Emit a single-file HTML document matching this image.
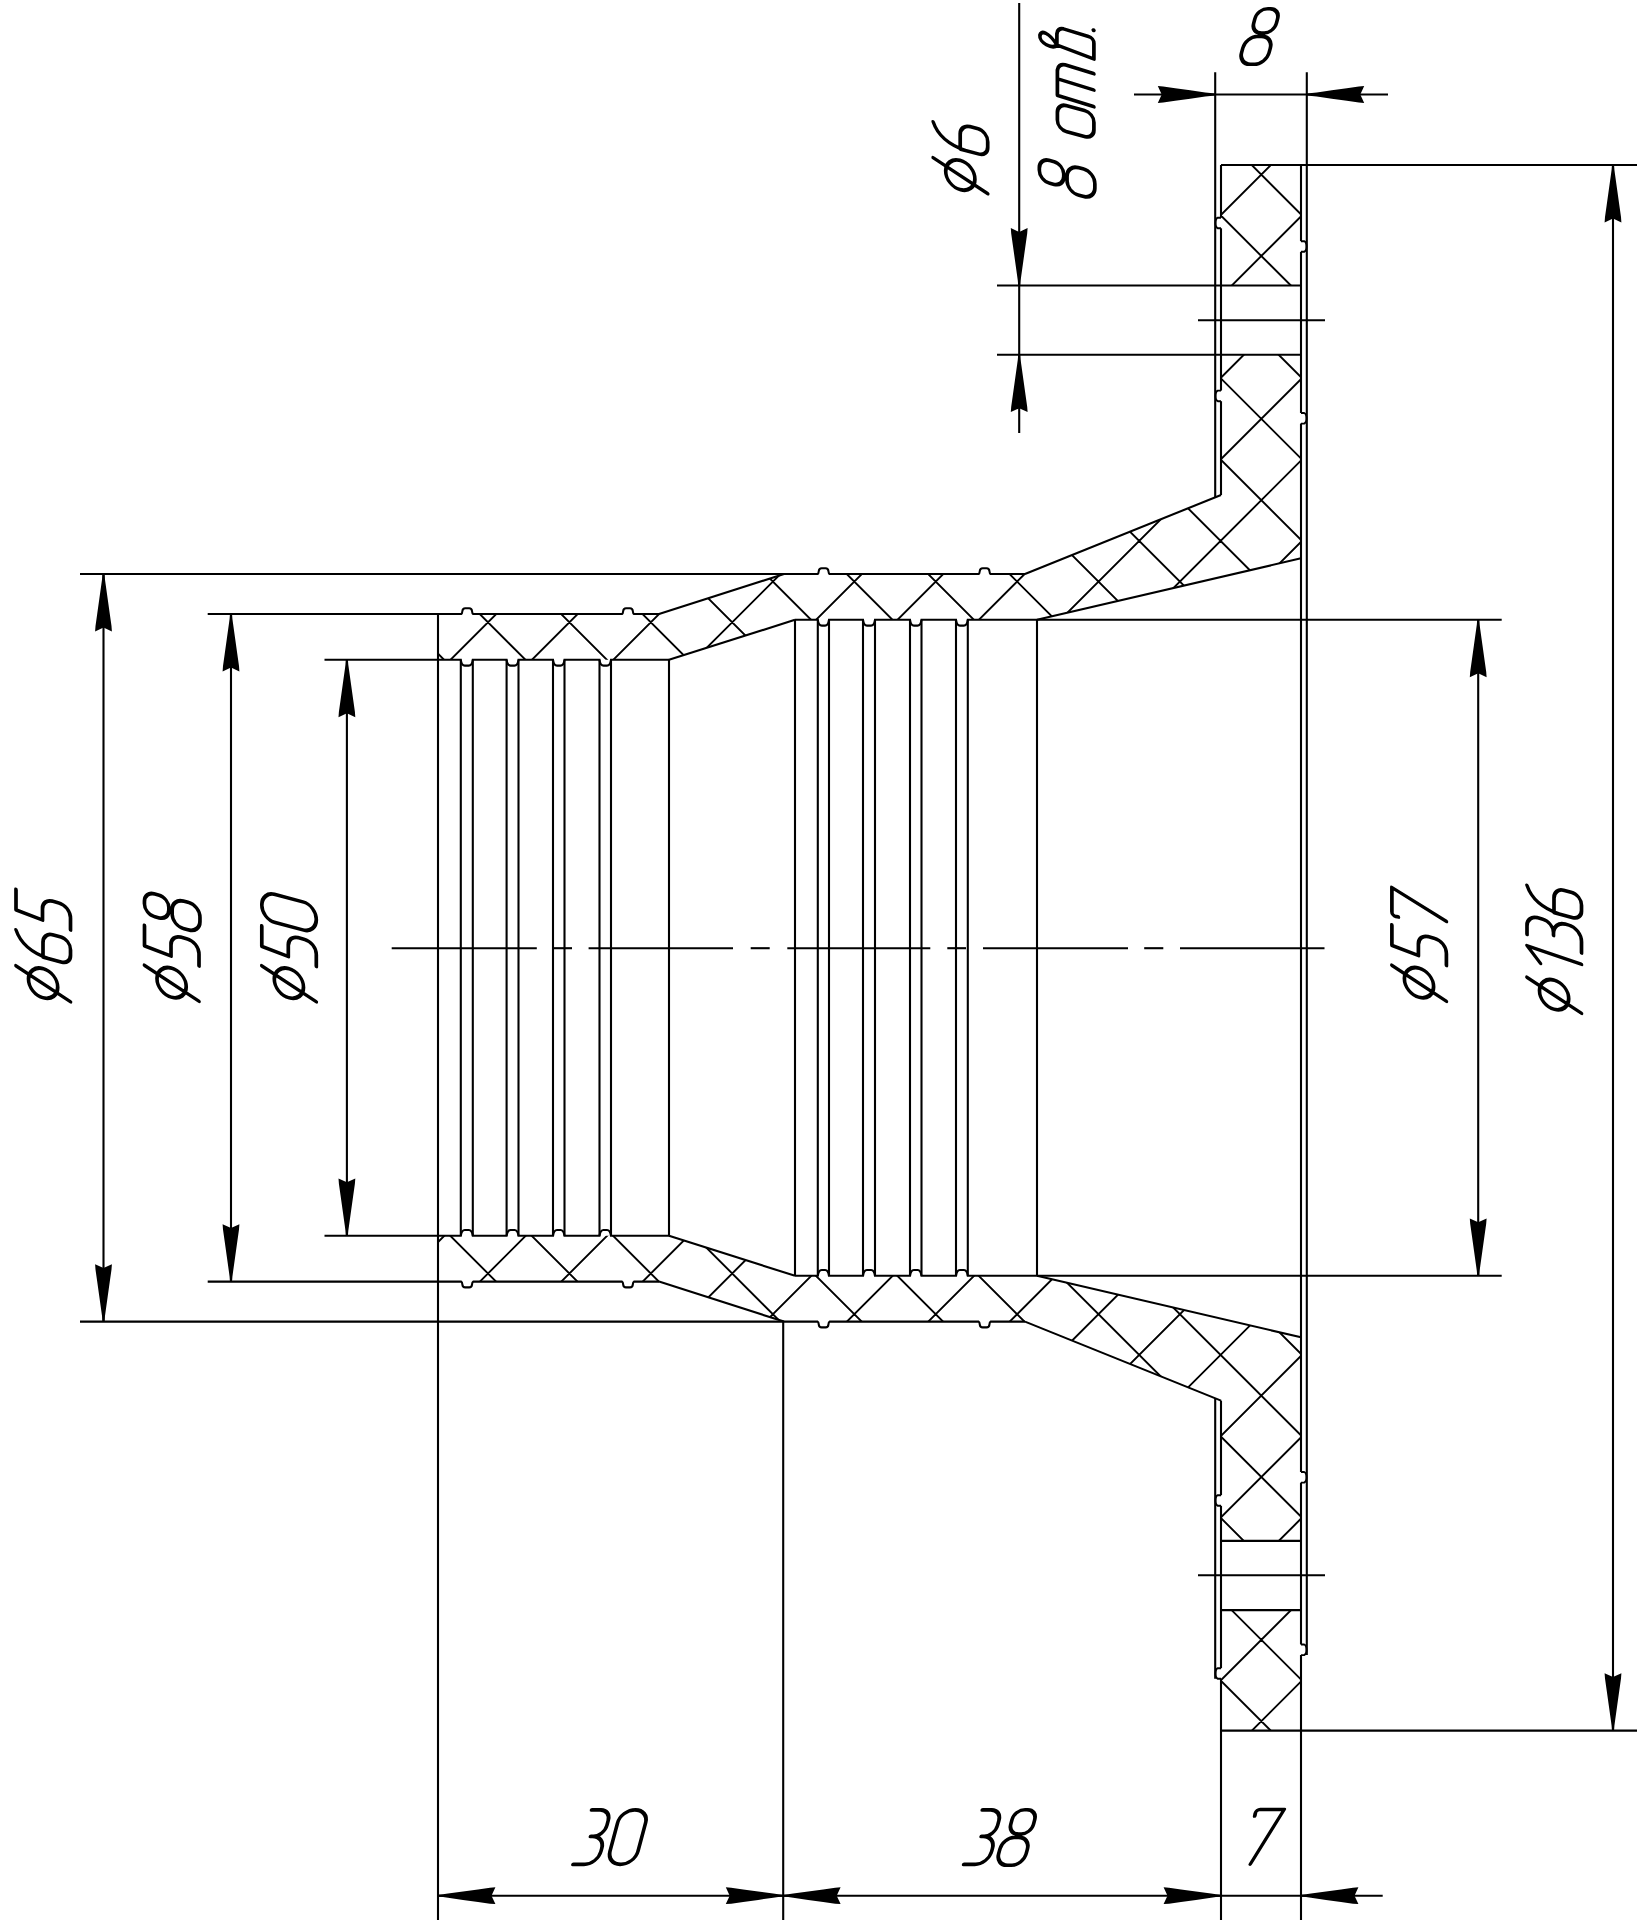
<!DOCTYPE html>
<html><head><meta charset="utf-8"><style>
html,body{margin:0;padding:0;background:#fff;}
svg{display:block;}
</style></head><body>
<svg width="1638" height="1920" viewBox="0 0 1638 1920" stroke="#000" stroke-linecap="butt">
<rect x="0" y="0" width="1638" height="1920" fill="#fff" stroke="none"/>
<defs><clipPath id="sec" clip-rule="evenodd"><path clip-rule="evenodd" d="M438.00,614.00 L659.00,614.00 L784.00,574.00 L1025.00,574.00 L1221.00,495.00 L1221.00,165.00 L1301.00,165.00 L1301.00,558.30 L1037.00,619.80 L795.00,619.80 L669.00,659.80 L438.00,659.80ZM438.00,1281.60 L659.00,1281.60 L784.00,1321.60 L1025.00,1321.60 L1221.00,1400.60 L1221.00,1730.60 L1301.00,1730.60 L1301.00,1337.30 L1037.00,1275.80 L795.00,1275.80 L669.00,1235.80 L438.00,1235.80ZM1221.0,285.5 L1301.0,285.5 L1301.0,354.7 L1221.0,354.7ZM1221.0,1540.8999999999999 L1301.0,1540.8999999999999 L1301.0,1610.1 L1221.0,1610.1Z"/></clipPath></defs>
<path clip-path="url(#sec)" d="M-2087.90,0 L-167.90,1920 M-2006.50,0 L-86.50,1920 M-1925.10,0 L-5.10,1920 M-1843.70,0 L76.30,1920 M-1762.30,0 L157.70,1920 M-1680.90,0 L239.10,1920 M-1599.50,0 L320.50,1920 M-1518.10,0 L401.90,1920 M-1436.70,0 L483.30,1920 M-1355.30,0 L564.70,1920 M-1273.90,0 L646.10,1920 M-1192.50,0 L727.50,1920 M-1111.10,0 L808.90,1920 M-1029.70,0 L890.30,1920 M-948.30,0 L971.70,1920 M-866.90,0 L1053.10,1920 M-785.50,0 L1134.50,1920 M-704.10,0 L1215.90,1920 M-622.70,0 L1297.30,1920 M-541.30,0 L1378.70,1920 M-459.90,0 L1460.10,1920 M-378.50,0 L1541.50,1920 M-297.10,0 L1622.90,1920 M-192.10,0 L-2112.10,1920 M-215.70,0 L1704.30,1920 M-110.70,0 L-2030.70,1920 M-134.30,0 L1785.70,1920 M-29.30,0 L-1949.30,1920 M-52.90,0 L1867.10,1920 M52.10,0 L-1867.90,1920 M28.50,0 L1948.50,1920 M133.50,0 L-1786.50,1920 M109.90,0 L2029.90,1920 M214.90,0 L-1705.10,1920 M191.30,0 L2111.30,1920 M296.30,0 L-1623.70,1920 M272.70,0 L2192.70,1920 M377.70,0 L-1542.30,1920 M354.10,0 L2274.10,1920 M459.10,0 L-1460.90,1920 M435.50,0 L2355.50,1920 M540.50,0 L-1379.50,1920 M516.90,0 L2436.90,1920 M621.90,0 L-1298.10,1920 M598.30,0 L2518.30,1920 M703.30,0 L-1216.70,1920 M679.70,0 L2599.70,1920 M784.70,0 L-1135.30,1920 M761.10,0 L2681.10,1920 M866.10,0 L-1053.90,1920 M842.50,0 L2762.50,1920 M947.50,0 L-972.50,1920 M923.90,0 L2843.90,1920 M1028.90,0 L-891.10,1920 M1005.30,0 L2925.30,1920 M1110.30,0 L-809.70,1920 M1086.70,0 L3006.70,1920 M1191.70,0 L-728.30,1920 M1168.10,0 L3088.10,1920 M1273.10,0 L-646.90,1920 M1249.50,0 L3169.50,1920 M1354.50,0 L-565.50,1920 M1330.90,0 L3250.90,1920 M1435.90,0 L-484.10,1920 M1412.30,0 L3332.30,1920 M1517.30,0 L-402.70,1920 M1493.70,0 L3413.70,1920 M1598.70,0 L-321.30,1920 M1575.10,0 L3495.10,1920 M1680.10,0 L-239.90,1920 M1656.50,0 L3576.50,1920 M1761.50,0 L-158.50,1920 M1737.90,0 L3657.90,1920 M1842.90,0 L-77.10,1920 M1819.30,0 L3739.30,1920 M1924.30,0 L4.30,1920 M2005.70,0 L85.70,1920 M2087.10,0 L167.10,1920 M2168.50,0 L248.50,1920 M2249.90,0 L329.90,1920 M2331.30,0 L411.30,1920 M2412.70,0 L492.70,1920 M2494.10,0 L574.10,1920 M2575.50,0 L655.50,1920 M2656.90,0 L736.90,1920 M2738.30,0 L818.30,1920 M2819.70,0 L899.70,1920 M2901.10,0 L981.10,1920 M2982.50,0 L1062.50,1920 M3063.90,0 L1143.90,1920 M3145.30,0 L1225.30,1920 M3226.70,0 L1306.70,1920 M3308.10,0 L1388.10,1920 M3389.50,0 L1469.50,1920 M3470.90,0 L1550.90,1920 M3552.30,0 L1632.30,1920 M3633.70,0 L1713.70,1920 M3715.10,0 L1795.10,1920" stroke-width="1.9" fill="none"/>
<path d="M207.70,614.00 L461.20,614.00 Q462.20,613.50 462.40,611.00 Q462.70,608.20 465.20,608.20 L469.20,608.20 Q471.70,608.20 472.00,611.00 Q472.20,613.50 473.20,614.00 L622.00,614.00 Q623.00,613.50 623.20,611.00 Q623.50,608.20 626.00,608.20 L630.00,608.20 Q632.50,608.20 632.80,611.00 Q633.00,613.50 634.00,614.00 L659.00,614.00" stroke-width="2.1" fill="none" />
<line x1="659.00" y1="614.00" x2="784.00" y2="574.00" stroke-width="2.1"/>
<path d="M80.00,574.00 L817.60,574.00 Q818.60,573.50 818.80,571.00 Q819.10,568.20 821.60,568.20 L825.60,568.20 Q828.10,568.20 828.40,571.00 Q828.60,573.50 829.60,574.00 L978.60,574.00 Q979.60,573.50 979.80,571.00 Q980.10,568.20 982.60,568.20 L986.60,568.20 Q989.10,568.20 989.40,571.00 Q989.60,573.50 990.60,574.00 L1025.00,574.00" stroke-width="2.1" fill="none" />
<line x1="1025.00" y1="574.00" x2="1221.00" y2="495.00" stroke-width="2.1"/>
<path d="M324.50,659.80 L460.80,659.80 C461.30,663.30 462.80,665.60 464.80,665.60 L468.80,665.60 C470.80,665.60 472.30,663.30 472.80,659.80 L506.60,659.80 C507.10,663.30 508.60,665.60 510.60,665.60 L514.50,665.60 C516.50,665.60 518.00,663.30 518.50,659.80 L553.00,659.80 C553.50,663.30 555.00,665.60 557.00,665.60 L560.50,665.60 C562.50,665.60 564.00,663.30 564.50,659.80 L599.50,659.80 C600.00,663.30 601.50,665.60 603.50,665.60 L607.00,665.60 C609.00,665.60 610.50,663.30 611.00,659.80 L669.00,659.80" stroke-width="2.1" fill="none" />
<line x1="669.00" y1="659.80" x2="795.00" y2="619.80" stroke-width="2.1"/>
<path d="M795.00,619.80 L817.80,619.80 C818.30,623.30 819.80,625.60 821.80,625.60 L825.00,625.60 C827.00,625.60 828.50,623.30 829.00,619.80 L863.00,619.80 C863.50,623.30 865.00,625.60 867.00,625.60 L871.00,625.60 C873.00,625.60 874.50,623.30 875.00,619.80 L910.00,619.80 C910.50,623.30 912.00,625.60 914.00,625.60 L917.50,625.60 C919.50,625.60 921.00,623.30 921.50,619.80 L956.00,619.80 C956.50,623.30 958.00,625.60 960.00,625.60 L963.80,625.60 C965.80,625.60 967.30,623.30 967.80,619.80 L1501.70,619.80" stroke-width="2.1" fill="none" />
<line x1="1037.00" y1="619.80" x2="1301.00" y2="558.30" stroke-width="2.1"/>
<line x1="997.00" y1="285.50" x2="1301.00" y2="285.50" stroke-width="2.1"/>
<line x1="997.00" y1="354.70" x2="1301.00" y2="354.70" stroke-width="2.1"/>
<line x1="1198.00" y1="320.30" x2="1325.00" y2="320.30" stroke-width="2.1"/>
<line x1="1221.00" y1="165.00" x2="1637.00" y2="165.00" stroke-width="2.1"/>
<path d="M207.70,1281.60 L461.20,1281.60 Q462.20,1282.10 462.40,1284.60 Q462.70,1287.40 465.20,1287.40 L469.20,1287.40 Q471.70,1287.40 472.00,1284.60 Q472.20,1282.10 473.20,1281.60 L622.00,1281.60 Q623.00,1282.10 623.20,1284.60 Q623.50,1287.40 626.00,1287.40 L630.00,1287.40 Q632.50,1287.40 632.80,1284.60 Q633.00,1282.10 634.00,1281.60 L659.00,1281.60" stroke-width="2.1" fill="none" />
<line x1="659.00" y1="1281.60" x2="784.00" y2="1321.60" stroke-width="2.1"/>
<path d="M80.00,1321.60 L817.60,1321.60 Q818.60,1322.10 818.80,1324.60 Q819.10,1327.40 821.60,1327.40 L825.60,1327.40 Q828.10,1327.40 828.40,1324.60 Q828.60,1322.10 829.60,1321.60 L978.60,1321.60 Q979.60,1322.10 979.80,1324.60 Q980.10,1327.40 982.60,1327.40 L986.60,1327.40 Q989.10,1327.40 989.40,1324.60 Q989.60,1322.10 990.60,1321.60 L1025.00,1321.60" stroke-width="2.1" fill="none" />
<line x1="1025.00" y1="1321.60" x2="1221.00" y2="1400.60" stroke-width="2.1"/>
<path d="M324.50,1235.80 L460.80,1235.80 C461.30,1232.30 462.80,1230.00 464.80,1230.00 L468.80,1230.00 C470.80,1230.00 472.30,1232.30 472.80,1235.80 L506.60,1235.80 C507.10,1232.30 508.60,1230.00 510.60,1230.00 L514.50,1230.00 C516.50,1230.00 518.00,1232.30 518.50,1235.80 L553.00,1235.80 C553.50,1232.30 555.00,1230.00 557.00,1230.00 L560.50,1230.00 C562.50,1230.00 564.00,1232.30 564.50,1235.80 L599.50,1235.80 C600.00,1232.30 601.50,1230.00 603.50,1230.00 L607.00,1230.00 C609.00,1230.00 610.50,1232.30 611.00,1235.80 L669.00,1235.80" stroke-width="2.1" fill="none" />
<line x1="669.00" y1="1235.80" x2="795.00" y2="1275.80" stroke-width="2.1"/>
<path d="M795.00,1275.80 L817.80,1275.80 C818.30,1272.30 819.80,1270.00 821.80,1270.00 L825.00,1270.00 C827.00,1270.00 828.50,1272.30 829.00,1275.80 L863.00,1275.80 C863.50,1272.30 865.00,1270.00 867.00,1270.00 L871.00,1270.00 C873.00,1270.00 874.50,1272.30 875.00,1275.80 L910.00,1275.80 C910.50,1272.30 912.00,1270.00 914.00,1270.00 L917.50,1270.00 C919.50,1270.00 921.00,1272.30 921.50,1275.80 L956.00,1275.80 C956.50,1272.30 958.00,1270.00 960.00,1270.00 L963.80,1270.00 C965.80,1270.00 967.30,1272.30 967.80,1275.80 L1501.70,1275.80" stroke-width="2.1" fill="none" />
<line x1="1037.00" y1="1275.80" x2="1301.00" y2="1337.30" stroke-width="2.1"/>
<line x1="1221.00" y1="1610.10" x2="1301.00" y2="1610.10" stroke-width="2.1"/>
<line x1="1221.00" y1="1540.90" x2="1301.00" y2="1540.90" stroke-width="2.1"/>
<line x1="1198.00" y1="1575.30" x2="1325.00" y2="1575.30" stroke-width="2.1"/>
<line x1="1221.00" y1="1730.60" x2="1637.00" y2="1730.60" stroke-width="2.1"/>
<line x1="460.80" y1="659.80" x2="460.80" y2="1235.80" stroke-width="2.1"/>
<line x1="472.80" y1="659.80" x2="472.80" y2="1235.80" stroke-width="2.1"/>
<line x1="506.60" y1="659.80" x2="506.60" y2="1235.80" stroke-width="2.1"/>
<line x1="518.50" y1="659.80" x2="518.50" y2="1235.80" stroke-width="2.1"/>
<line x1="553.00" y1="659.80" x2="553.00" y2="1235.80" stroke-width="2.1"/>
<line x1="564.50" y1="659.80" x2="564.50" y2="1235.80" stroke-width="2.1"/>
<line x1="599.50" y1="659.80" x2="599.50" y2="1235.80" stroke-width="2.1"/>
<line x1="611.00" y1="659.80" x2="611.00" y2="1235.80" stroke-width="2.1"/>
<line x1="669.00" y1="659.80" x2="669.00" y2="1235.80" stroke-width="2.1"/>
<line x1="817.80" y1="619.80" x2="817.80" y2="1275.80" stroke-width="2.1"/>
<line x1="829.00" y1="619.80" x2="829.00" y2="1275.80" stroke-width="2.1"/>
<line x1="863.00" y1="619.80" x2="863.00" y2="1275.80" stroke-width="2.1"/>
<line x1="875.00" y1="619.80" x2="875.00" y2="1275.80" stroke-width="2.1"/>
<line x1="910.00" y1="619.80" x2="910.00" y2="1275.80" stroke-width="2.1"/>
<line x1="921.50" y1="619.80" x2="921.50" y2="1275.80" stroke-width="2.1"/>
<line x1="956.00" y1="619.80" x2="956.00" y2="1275.80" stroke-width="2.1"/>
<line x1="967.80" y1="619.80" x2="967.80" y2="1275.80" stroke-width="2.1"/>
<line x1="795.00" y1="619.80" x2="795.00" y2="1275.80" stroke-width="2.1"/>
<line x1="1037.00" y1="619.80" x2="1037.00" y2="1275.80" stroke-width="2.1"/>
<line x1="438.00" y1="614.00" x2="438.00" y2="1920.00" stroke-width="2.1"/>
<line x1="783.20" y1="1321.60" x2="783.20" y2="1920.00" stroke-width="2.1"/>
<line x1="1221.00" y1="165.00" x2="1221.00" y2="217.70" stroke-width="2.1"/>
<line x1="1221.00" y1="228.30" x2="1221.00" y2="390.60" stroke-width="2.1"/>
<line x1="1221.00" y1="401.20" x2="1221.00" y2="495.00" stroke-width="2.1"/>
<line x1="1221.00" y1="1400.60" x2="1221.00" y2="1495.20" stroke-width="2.1"/>
<line x1="1221.00" y1="1505.80" x2="1221.00" y2="1668.20" stroke-width="2.1"/>
<line x1="1221.00" y1="1678.80" x2="1221.00" y2="1920.00" stroke-width="2.1"/>
<line x1="1301.00" y1="165.00" x2="1301.00" y2="241.20" stroke-width="2.1"/>
<line x1="1301.00" y1="251.80" x2="1301.00" y2="413.00" stroke-width="2.1"/>
<line x1="1301.00" y1="423.60" x2="1301.00" y2="1472.00" stroke-width="2.1"/>
<line x1="1301.00" y1="1482.60" x2="1301.00" y2="1644.50" stroke-width="2.1"/>
<line x1="1301.00" y1="1655.10" x2="1301.00" y2="1920.00" stroke-width="2.1"/>
<line x1="1215.20" y1="72.30" x2="1215.20" y2="497.40" stroke-width="2.1"/>
<line x1="1215.20" y1="1398.20" x2="1215.20" y2="1678.80" stroke-width="2.1"/>
<line x1="1306.80" y1="72.30" x2="1306.80" y2="1655.10" stroke-width="2.1"/>
<path d="M1221.00,217.70 L1217.80,217.70 Q1215.50,218.70 1215.50,223.00 Q1215.50,227.30 1217.80,228.30 L1221.00,228.30" stroke-width="1.9" fill="none" />
<path d="M1221.00,390.60 L1217.80,390.60 Q1215.50,391.60 1215.50,395.90 Q1215.50,400.20 1217.80,401.20 L1221.00,401.20" stroke-width="1.9" fill="none" />
<path d="M1221.00,1495.20 L1217.80,1495.20 Q1215.50,1496.20 1215.50,1500.50 Q1215.50,1504.80 1217.80,1505.80 L1221.00,1505.80" stroke-width="1.9" fill="none" />
<path d="M1221.00,1668.20 L1217.80,1668.20 Q1215.50,1669.20 1215.50,1673.50 Q1215.50,1677.80 1217.80,1678.80 L1221.00,1678.80" stroke-width="1.9" fill="none" />
<path d="M1301.00,241.20 L1304.20,241.20 Q1306.50,242.20 1306.50,246.50 Q1306.50,250.80 1304.20,251.80 L1301.00,251.80" stroke-width="1.9" fill="none" />
<path d="M1301.00,413.00 L1304.20,413.00 Q1306.50,414.00 1306.50,418.30 Q1306.50,422.60 1304.20,423.60 L1301.00,423.60" stroke-width="1.9" fill="none" />
<path d="M1301.00,1472.00 L1304.20,1472.00 Q1306.50,1473.00 1306.50,1477.30 Q1306.50,1481.60 1304.20,1482.60 L1301.00,1482.60" stroke-width="1.9" fill="none" />
<path d="M1301.00,1644.50 L1304.20,1644.50 Q1306.50,1645.50 1306.50,1649.80 Q1306.50,1654.10 1304.20,1655.10 L1301.00,1655.10" stroke-width="1.9" fill="none" />
<line x1="391.70" y1="948.20" x2="536.80" y2="948.20" stroke-width="2.1"/>
<line x1="553.00" y1="948.20" x2="572.00" y2="948.20" stroke-width="2.1"/>
<line x1="588.60" y1="948.20" x2="733.00" y2="948.20" stroke-width="2.1"/>
<line x1="750.70" y1="948.20" x2="769.70" y2="948.20" stroke-width="2.1"/>
<line x1="787.30" y1="948.20" x2="930.30" y2="948.20" stroke-width="2.1"/>
<line x1="947.30" y1="948.20" x2="966.00" y2="948.20" stroke-width="2.1"/>
<line x1="983.00" y1="948.20" x2="1128.00" y2="948.20" stroke-width="2.1"/>
<line x1="1144.20" y1="948.20" x2="1163.30" y2="948.20" stroke-width="2.1"/>
<line x1="1180.00" y1="948.20" x2="1324.50" y2="948.20" stroke-width="2.1"/>
<line x1="103.50" y1="574.00" x2="103.50" y2="1321.60" stroke-width="2.1"/>
<path d="M102.50,574.00 L102.10,579.00 L101.40,584.00 L99.30,599.00 L97.20,614.00 L95.50,626.00 L95.10,631.40 L103.50,627.50 L111.90,631.40 L111.50,626.00 L109.80,614.00 L107.70,599.00 L105.60,584.00 L104.90,579.00 L104.50,574.00Z" fill="#000" stroke="none"/>
<path d="M104.50,1321.60 L104.90,1316.60 L105.60,1311.60 L107.70,1296.60 L109.80,1281.60 L111.50,1269.60 L111.90,1264.20 L103.50,1268.10 L95.10,1264.20 L95.50,1269.60 L97.20,1281.60 L99.30,1296.60 L101.40,1311.60 L102.10,1316.60 L102.50,1321.60Z" fill="#000" stroke="none"/>
<line x1="231.00" y1="614.00" x2="231.00" y2="1281.60" stroke-width="2.1"/>
<path d="M230.00,614.00 L229.60,619.00 L228.90,624.00 L226.80,639.00 L224.70,654.00 L223.00,666.00 L222.60,671.40 L231.00,667.50 L239.40,671.40 L239.00,666.00 L237.30,654.00 L235.20,639.00 L233.10,624.00 L232.40,619.00 L232.00,614.00Z" fill="#000" stroke="none"/>
<path d="M232.00,1281.60 L232.40,1276.60 L233.10,1271.60 L235.20,1256.60 L237.30,1241.60 L239.00,1229.60 L239.40,1224.20 L231.00,1228.10 L222.60,1224.20 L223.00,1229.60 L224.70,1241.60 L226.80,1256.60 L228.90,1271.60 L229.60,1276.60 L230.00,1281.60Z" fill="#000" stroke="none"/>
<line x1="346.90" y1="659.80" x2="346.90" y2="1235.80" stroke-width="2.1"/>
<path d="M345.90,659.80 L345.50,664.80 L344.80,669.80 L342.70,684.80 L340.60,699.80 L338.90,711.80 L338.50,717.20 L346.90,713.30 L355.30,717.20 L354.90,711.80 L353.20,699.80 L351.10,684.80 L349.00,669.80 L348.30,664.80 L347.90,659.80Z" fill="#000" stroke="none"/>
<path d="M347.90,1235.80 L348.30,1230.80 L349.00,1225.80 L351.10,1210.80 L353.20,1195.80 L354.90,1183.80 L355.30,1178.40 L346.90,1182.30 L338.50,1178.40 L338.90,1183.80 L340.60,1195.80 L342.70,1210.80 L344.80,1225.80 L345.50,1230.80 L345.90,1235.80Z" fill="#000" stroke="none"/>
<line x1="1478.20" y1="619.80" x2="1478.20" y2="1275.80" stroke-width="2.1"/>
<path d="M1477.20,619.80 L1476.80,624.80 L1476.10,629.80 L1474.00,644.80 L1471.90,659.80 L1470.20,671.80 L1469.80,677.20 L1478.20,673.30 L1486.60,677.20 L1486.20,671.80 L1484.50,659.80 L1482.40,644.80 L1480.30,629.80 L1479.60,624.80 L1479.20,619.80Z" fill="#000" stroke="none"/>
<path d="M1479.20,1275.80 L1479.60,1270.80 L1480.30,1265.80 L1482.40,1250.80 L1484.50,1235.80 L1486.20,1223.80 L1486.60,1218.40 L1478.20,1222.30 L1469.80,1218.40 L1470.20,1223.80 L1471.90,1235.80 L1474.00,1250.80 L1476.10,1265.80 L1476.80,1270.80 L1477.20,1275.80Z" fill="#000" stroke="none"/>
<line x1="1613.00" y1="165.00" x2="1613.00" y2="1730.60" stroke-width="2.1"/>
<path d="M1612.00,165.00 L1611.60,170.00 L1610.90,175.00 L1608.80,190.00 L1606.70,205.00 L1605.00,217.00 L1604.60,222.40 L1613.00,218.50 L1621.40,222.40 L1621.00,217.00 L1619.30,205.00 L1617.20,190.00 L1615.10,175.00 L1614.40,170.00 L1614.00,165.00Z" fill="#000" stroke="none"/>
<path d="M1614.00,1730.60 L1614.40,1725.60 L1615.10,1720.60 L1617.20,1705.60 L1619.30,1690.60 L1621.00,1678.60 L1621.40,1673.20 L1613.00,1677.10 L1604.60,1673.20 L1605.00,1678.60 L1606.70,1690.60 L1608.80,1705.60 L1610.90,1720.60 L1611.60,1725.60 L1612.00,1730.60Z" fill="#000" stroke="none"/>
<line x1="1134.00" y1="94.50" x2="1388.00" y2="94.50" stroke-width="2.1"/>
<path d="M1215.20,93.50 L1210.20,93.10 L1205.20,92.40 L1190.20,90.30 L1175.20,88.20 L1163.20,86.50 L1157.80,86.10 L1161.70,94.50 L1157.80,102.90 L1163.20,102.50 L1175.20,100.80 L1190.20,98.70 L1205.20,96.60 L1210.20,95.90 L1215.20,95.50Z" fill="#000" stroke="none"/>
<path d="M1306.80,95.50 L1311.80,95.90 L1316.80,96.60 L1331.80,98.70 L1346.80,100.80 L1358.80,102.50 L1364.20,102.90 L1360.30,94.50 L1364.20,86.10 L1358.80,86.50 L1346.80,88.20 L1331.80,90.30 L1316.80,92.40 L1311.80,93.10 L1306.80,93.50Z" fill="#000" stroke="none"/>
<line x1="1019.20" y1="3.00" x2="1019.20" y2="433.00" stroke-width="2.1"/>
<path d="M1020.20,285.50 L1020.60,280.50 L1021.30,275.50 L1023.40,260.50 L1025.50,245.50 L1027.20,233.50 L1027.60,228.10 L1019.20,232.00 L1010.80,228.10 L1011.20,233.50 L1012.90,245.50 L1015.00,260.50 L1017.10,275.50 L1017.80,280.50 L1018.20,285.50Z" fill="#000" stroke="none"/>
<path d="M1018.20,354.70 L1017.80,359.70 L1017.10,364.70 L1015.00,379.70 L1012.90,394.70 L1011.20,406.70 L1010.80,412.10 L1019.20,408.20 L1027.60,412.10 L1027.20,406.70 L1025.50,394.70 L1023.40,379.70 L1021.30,364.70 L1020.60,359.70 L1020.20,354.70Z" fill="#000" stroke="none"/>
<line x1="438.00" y1="1895.70" x2="1382.70" y2="1895.70" stroke-width="2.1"/>
<path d="M438.00,1896.70 L443.00,1897.10 L448.00,1897.80 L463.00,1899.90 L478.00,1902.00 L490.00,1903.70 L495.40,1904.10 L491.50,1895.70 L495.40,1887.30 L490.00,1887.70 L478.00,1889.40 L463.00,1891.50 L448.00,1893.60 L443.00,1894.30 L438.00,1894.70Z" fill="#000" stroke="none"/>
<path d="M783.20,1894.70 L778.20,1894.30 L773.20,1893.60 L758.20,1891.50 L743.20,1889.40 L731.20,1887.70 L725.80,1887.30 L729.70,1895.70 L725.80,1904.10 L731.20,1903.70 L743.20,1902.00 L758.20,1899.90 L773.20,1897.80 L778.20,1897.10 L783.20,1896.70Z" fill="#000" stroke="none"/>
<path d="M783.20,1896.70 L788.20,1897.10 L793.20,1897.80 L808.20,1899.90 L823.20,1902.00 L835.20,1903.70 L840.60,1904.10 L836.70,1895.70 L840.60,1887.30 L835.20,1887.70 L823.20,1889.40 L808.20,1891.50 L793.20,1893.60 L788.20,1894.30 L783.20,1894.70Z" fill="#000" stroke="none"/>
<path d="M1221.00,1894.70 L1216.00,1894.30 L1211.00,1893.60 L1196.00,1891.50 L1181.00,1889.40 L1169.00,1887.70 L1163.60,1887.30 L1167.50,1895.70 L1163.60,1904.10 L1169.00,1903.70 L1181.00,1902.00 L1196.00,1899.90 L1211.00,1897.80 L1216.00,1897.10 L1221.00,1896.70Z" fill="#000" stroke="none"/>
<path d="M1301.00,1896.70 L1306.00,1897.10 L1311.00,1897.80 L1326.00,1899.90 L1341.00,1902.00 L1353.00,1903.70 L1358.40,1904.10 L1354.50,1895.70 L1358.40,1887.30 L1353.00,1887.70 L1341.00,1889.40 L1326.00,1891.50 L1311.00,1893.60 L1306.00,1894.30 L1301.00,1894.70Z" fill="#000" stroke="none"/>
<g transform="translate(70.50,1003.50) rotate(-90)">
<path transform="translate(0.00,0) skewX(-15)" d="M13,-42 A14.6,14.6 0 0 1 13,-12.8 A14.6,14.6 0 0 1 13,-42 Z M1.8,0 L23,-54.5" stroke-width="3.7" fill="none" stroke-linecap="round" stroke-linejoin="round"/>
<path transform="translate(37.00,0) skewX(-15)" d="M22,-54.5 Q4,-48 2,-22 M2,-27.5 L17,-27.5 A10,10 0 0 1 27,-17.5 L27,-10 A10,10 0 0 1 17,0 L11,0 A9,9 0 0 1 2,-9 L2,-27.5" stroke-width="3.7" fill="none" stroke-linecap="round" stroke-linejoin="round"/>
<path transform="translate(73.50,0) skewX(-15)" d="M26,-54.5 L5.5,-54.5 L2.5,-28 L14,-28 A10,10 0 0 1 24,-18 L24,-12 A12,12 0 0 1 12,0 L0,0" stroke-width="3.7" fill="none" stroke-linecap="round" stroke-linejoin="round"/>
</g>
<g transform="translate(199.00,1003.00) rotate(-90)">
<path transform="translate(0.00,0) skewX(-15)" d="M13,-42 A14.6,14.6 0 0 1 13,-12.8 A14.6,14.6 0 0 1 13,-42 Z M1.8,0 L23,-54.5" stroke-width="3.7" fill="none" stroke-linecap="round" stroke-linejoin="round"/>
<path transform="translate(37.00,0) skewX(-15)" d="M26,-54.5 L5.5,-54.5 L2.5,-28 L14,-28 A10,10 0 0 1 24,-18 L24,-12 A12,12 0 0 1 12,0 L0,0" stroke-width="3.7" fill="none" stroke-linecap="round" stroke-linejoin="round"/>
<path transform="translate(71.50,0) skewX(-15)" d="M12.94,-54.55 L15.66,-54.55 A10,10 0 0 1 25.66,-44.55 L25.66,-40.15 A10,10 0 0 1 15.66,-30.15 L12.94,-30.15 A10,10 0 0 1 2.94,-40.15 L2.94,-44.55 A10,10 0 0 1 12.94,-54.55 Z M10.23,-26.85 L14.73,-26.85 A11.5,11.5 0 0 1 26.23,-15.35 L26.23,-10.55 A11.5,11.5 0 0 1 14.73,0.95 L10.23,0.95 A11.5,11.5 0 0 1 -1.27,-10.55 L-1.27,-15.35 A11.5,11.5 0 0 1 10.23,-26.85 Z" stroke-width="3.7" fill="none" stroke-linecap="round" stroke-linejoin="round"/>
</g>
<g transform="translate(316.30,1003.50) rotate(-90)">
<path transform="translate(0.00,0) skewX(-15)" d="M13,-42 A14.6,14.6 0 0 1 13,-12.8 A14.6,14.6 0 0 1 13,-42 Z M1.8,0 L23,-54.5" stroke-width="3.7" fill="none" stroke-linecap="round" stroke-linejoin="round"/>
<path transform="translate(37.00,0) skewX(-15)" d="M26,-54.5 L5.5,-54.5 L2.5,-28 L14,-28 A10,10 0 0 1 24,-18 L24,-12 A12,12 0 0 1 12,0 L0,0" stroke-width="3.7" fill="none" stroke-linecap="round" stroke-linejoin="round"/>
<path transform="translate(70.00,0) skewX(-15)" d="M14,-54.5 A14,13 0 0 1 28,-41.5 L28,-13 A14,13 0 0 1 14,0 A14,13 0 0 1 0,-13 L0,-41.5 A14,13 0 0 1 14,-54.5 Z" stroke-width="3.7" fill="none" stroke-linecap="round" stroke-linejoin="round"/>
</g>
<g transform="translate(1446.40,1003.00) rotate(-90)">
<path transform="translate(0.00,0) skewX(-15)" d="M13,-42 A14.6,14.6 0 0 1 13,-12.8 A14.6,14.6 0 0 1 13,-42 Z M1.8,0 L23,-54.5" stroke-width="3.7" fill="none" stroke-linecap="round" stroke-linejoin="round"/>
<path transform="translate(37.50,0) skewX(-15)" d="M26,-54.5 L5.5,-54.5 L2.5,-28 L14,-28 A10,10 0 0 1 24,-18 L24,-12 A12,12 0 0 1 12,0 L0,0" stroke-width="3.7" fill="none" stroke-linecap="round" stroke-linejoin="round"/>
<path transform="translate(73.00,0) skewX(-15)" d="M0.2,-48 L0,-51 A3.5,3.5 0 0 1 3.5,-54.5 L27.9,-54.5 L8.7,0" stroke-width="3.7" fill="none" stroke-linecap="round" stroke-linejoin="round"/>
</g>
<g transform="translate(1581.50,1015.00) rotate(-90)">
<path transform="translate(0.00,0) skewX(-15)" d="M13,-42 A14.6,14.6 0 0 1 13,-12.8 A14.6,14.6 0 0 1 13,-42 Z M1.8,0 L23,-54.5" stroke-width="3.7" fill="none" stroke-linecap="round" stroke-linejoin="round"/>
<path transform="translate(40.70,0) skewX(-15)" d="M0,-41 L14,-54.5 L10,0" stroke-width="3.7" fill="none" stroke-linecap="round" stroke-linejoin="round"/>
<path transform="translate(62.00,0) skewX(-15)" d="M4,-54.5 L13,-54.5 A10.5,10.5 0 0 1 23.5,-44 L23.5,-39 A11,11 0 0 1 12.5,-28 L10,-28 M12.5,-28 A12,12 0 0 1 24.5,-16 L24.5,-13 A13,13 0 0 1 11.5,0 L0,0" stroke-width="3.7" fill="none" stroke-linecap="round" stroke-linejoin="round"/>
<path transform="translate(93.00,0) skewX(-15)" d="M22,-54.5 Q4,-48 2,-22 M2,-27.5 L17,-27.5 A10,10 0 0 1 27,-17.5 L27,-10 A10,10 0 0 1 17,0 L11,0 A9,9 0 0 1 2,-9 L2,-27.5" stroke-width="3.7" fill="none" stroke-linecap="round" stroke-linejoin="round"/>
</g>
<g transform="translate(987.70,195.40) rotate(-90)">
<path transform="translate(0.00,0) skewX(-15)" d="M13,-42 A14.6,14.6 0 0 1 13,-12.8 A14.6,14.6 0 0 1 13,-42 Z M1.8,0 L23,-54.5" stroke-width="3.7" fill="none" stroke-linecap="round" stroke-linejoin="round"/>
<path transform="translate(37.00,0) skewX(-15)" d="M22,-54.5 Q4,-48 2,-22 M2,-27.5 L17,-27.5 A10,10 0 0 1 27,-17.5 L27,-10 A10,10 0 0 1 17,0 L11,0 A9,9 0 0 1 2,-9 L2,-27.5" stroke-width="3.7" fill="none" stroke-linecap="round" stroke-linejoin="round"/>
</g>
<g transform="translate(1093.90,197.00) rotate(-90)">
<path transform="translate(-1.00,0) skewX(-15)" d="M12.94,-54.55 L15.66,-54.55 A10,10 0 0 1 25.66,-44.55 L25.66,-40.15 A10,10 0 0 1 15.66,-30.15 L12.94,-30.15 A10,10 0 0 1 2.94,-40.15 L2.94,-44.55 A10,10 0 0 1 12.94,-54.55 Z M10.23,-26.85 L14.73,-26.85 A11.5,11.5 0 0 1 26.23,-15.35 L26.23,-10.55 A11.5,11.5 0 0 1 14.73,0.95 L10.23,0.95 A11.5,11.5 0 0 1 -1.27,-10.55 L-1.27,-15.35 A11.5,11.5 0 0 1 10.23,-26.85 Z" stroke-width="3.7" fill="none" stroke-linecap="round" stroke-linejoin="round"/>
<path transform="translate(58.00,0) skewX(-15)" d="M9,-36.5 L17,-36.5 A9,9 0 0 1 26,-27.5 L26,-9 A9,9 0 0 1 17,0 L9,0 A9,9 0 0 1 0,-9 L0,-27.5 A9,9 0 0 1 9,-36.5 Z" stroke-width="3.7" fill="none" stroke-linecap="round" stroke-linejoin="round"/>
<path transform="translate(90.30,0) skewX(-15)" d="M0,0 L1.5,-36.5 L26.5,-36.5 A8,8 0 0 1 34.2,-28.5 L33,0 M18.2,-36.5 L16.7,0" stroke-width="3.7" fill="none" stroke-linecap="round" stroke-linejoin="round"/>
<path transform="translate(138.00,0) skewX(-15)" d="M4,-37 L15,-37 A7,7 0 0 1 22,-30 L21,-5 A5,5 0 0 1 16,0 L0,0 L4,-37 C-2,-42 2,-55 9,-54 C15,-53 15,-45 4,-37" stroke-width="3.7" fill="none" stroke-linecap="round" stroke-linejoin="round"/>
<path transform="translate(166.50,0) skewX(-15)" d="M0,-0.6 L0.4,0" stroke-width="3.7" fill="none" stroke-linecap="round" stroke-linejoin="round"/>
</g>
<g transform="translate(573.00,1864.30)">
<path transform="translate(0.00,0) skewX(-15)" d="M4,-54.5 L13,-54.5 A10.5,10.5 0 0 1 23.5,-44 L23.5,-39 A11,11 0 0 1 12.5,-28 L10,-28 M12.5,-28 A12,12 0 0 1 24.5,-16 L24.5,-13 A13,13 0 0 1 11.5,0 L0,0" stroke-width="3.7" fill="none" stroke-linecap="round" stroke-linejoin="round"/>
<path transform="translate(33.50,0) skewX(-15)" d="M14,-54.5 A14,13 0 0 1 28,-41.5 L28,-13 A14,13 0 0 1 14,0 A14,13 0 0 1 0,-13 L0,-41.5 A14,13 0 0 1 14,-54.5 Z" stroke-width="3.7" fill="none" stroke-linecap="round" stroke-linejoin="round"/>
</g>
<g transform="translate(963.70,1864.30)">
<path transform="translate(0.00,0) skewX(-15)" d="M4,-54.5 L13,-54.5 A10.5,10.5 0 0 1 23.5,-44 L23.5,-39 A11,11 0 0 1 12.5,-28 L10,-28 M12.5,-28 A12,12 0 0 1 24.5,-16 L24.5,-13 A13,13 0 0 1 11.5,0 L0,0" stroke-width="3.7" fill="none" stroke-linecap="round" stroke-linejoin="round"/>
<path transform="translate(33.40,0) skewX(-15)" d="M12.94,-54.55 L15.66,-54.55 A10,10 0 0 1 25.66,-44.55 L25.66,-40.15 A10,10 0 0 1 15.66,-30.15 L12.94,-30.15 A10,10 0 0 1 2.94,-40.15 L2.94,-44.55 A10,10 0 0 1 12.94,-54.55 Z M10.23,-26.85 L14.73,-26.85 A11.5,11.5 0 0 1 26.23,-15.35 L26.23,-10.55 A11.5,11.5 0 0 1 14.73,0.95 L10.23,0.95 A11.5,11.5 0 0 1 -1.27,-10.55 L-1.27,-15.35 A11.5,11.5 0 0 1 10.23,-26.85 Z" stroke-width="3.7" fill="none" stroke-linecap="round" stroke-linejoin="round"/>
</g>
<g transform="translate(1241.70,1864.00)">
<path transform="translate(0.00,0) skewX(-15)" d="M0.2,-48 L0,-51 A3.5,3.5 0 0 1 3.5,-54.5 L27.9,-54.5 L8.7,0" stroke-width="3.7" fill="none" stroke-linecap="round" stroke-linejoin="round"/>
</g>
<g transform="translate(1240.00,63.30)">
<path transform="translate(0.00,0) skewX(-15)" d="M12.94,-54.55 L15.66,-54.55 A10,10 0 0 1 25.66,-44.55 L25.66,-40.15 A10,10 0 0 1 15.66,-30.15 L12.94,-30.15 A10,10 0 0 1 2.94,-40.15 L2.94,-44.55 A10,10 0 0 1 12.94,-54.55 Z M10.23,-26.85 L14.73,-26.85 A11.5,11.5 0 0 1 26.23,-15.35 L26.23,-10.55 A11.5,11.5 0 0 1 14.73,0.95 L10.23,0.95 A11.5,11.5 0 0 1 -1.27,-10.55 L-1.27,-15.35 A11.5,11.5 0 0 1 10.23,-26.85 Z" stroke-width="3.7" fill="none" stroke-linecap="round" stroke-linejoin="round"/>
</g>
</svg>
</body></html>
